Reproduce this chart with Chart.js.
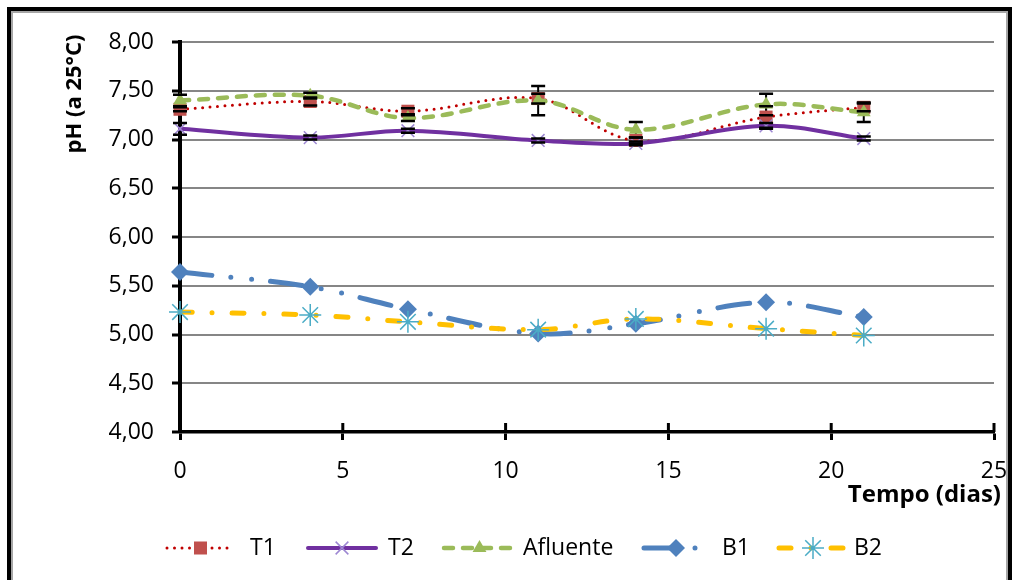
<!DOCTYPE html>
<html>
<head>
<meta charset="utf-8">
<title>pH (a 25°C) x Tempo (dias)</title>
<script src="https://cdn.jsdelivr.net/npm/chart.js@4.4.1/dist/chart.umd.min.js"></script>
<style>
  html, body { margin: 0; padding: 0; background: #fff; }
  #wrap { position: relative; width: 1019px; height: 580px; overflow: hidden; background: #fff; }
  #c { position: absolute; left: 0; top: 0; }
  #frame {
    position: absolute; left: 7px; top: 7px; width: 1005px; height: 600px;
    box-sizing: border-box; border: 4px solid #000;
    box-shadow: inset 0 0 0 2px #a6a6a6; pointer-events: none;
  }
</style>
</head>
<body>
<div id="wrap">
  <canvas id="c" width="1019" height="580"></canvas>
  <div id="frame"></div>
</div>
<script>
// Sampling days
const days = [0, 4, 7, 11, 14, 18, 21];

// pH readings per treatment
const t1       = [7.31, 7.39, 7.29, 7.42, 6.99, 7.23, 7.33];
const t2       = [7.11, 7.02, 7.09, 6.99, 6.96, 7.14, 7.01];
const afluente = [7.40, 7.45, 7.22, 7.40, 7.10, 7.36, 7.28];
const b1       = [5.64, 5.49, 5.26, 5.01, 5.11, 5.33, 5.18];
const b2       = [5.23, 5.20, 5.13, 5.05, 5.16, 5.06, 4.99];

// Standard deviations (error bars)
const t1Err       = [0.02, 0.04, 0.03, 0.05, 0.03, 0.11, 0.04];
const t2Err       = [0.06, 0.02, 0.02, 0.02, 0.02, 0.03, 0.02];
const afluenteErr = [0.06, 0.03, 0.03, 0.15, 0.08, 0.11, 0.10];

// Axis ticks
const xTicks = [0, 5, 10, 15, 20, 25];
const yTicks = [4.0, 4.5, 5.0, 5.5, 6.0, 6.5, 7.0, 7.5, 8.0];

const seriesLabels = ['T1', 'T2', 'Afluente', 'B1', 'B2'];

const FONT = '"Open Sans", "Liberation Sans", sans-serif';

const pts = arr => days.map((d, i) => ({ x: d, y: arr[i] }));

// Marker drawing used for the legend keys
function drawMarker(ctx, style, r, x, y, fill, stroke, bw) {
  ctx.save();
  ctx.fillStyle = fill; ctx.strokeStyle = stroke; ctx.lineWidth = bw;
  ctx.setLineDash([]);
  ctx.beginPath();
  if (style === 'rect') {
    const s = Math.SQRT1_2 * r;
    ctx.rect(x - s, y - s, 2 * s, 2 * s); ctx.fill();
  } else if (style === 'triangle') {
    ctx.moveTo(x, y - r);
    ctx.lineTo(x + r * 0.866, y + r * 0.5);
    ctx.lineTo(x - r * 0.866, y + r * 0.5);
    ctx.closePath(); ctx.fill();
  } else if (style === 'rectRot') {
    ctx.moveTo(x, y - r); ctx.lineTo(x + r, y); ctx.lineTo(x, y + r); ctx.lineTo(x - r, y);
    ctx.closePath(); ctx.fill();
  } else if (style === 'crossRot' || style === 'star') {
    const d = Math.SQRT1_2 * r;
    ctx.moveTo(x - d, y - d); ctx.lineTo(x + d, y + d);
    ctx.moveTo(x - d, y + d); ctx.lineTo(x + d, y - d);
    if (style === 'star') {
      ctx.moveTo(x, y - r); ctx.lineTo(x, y + r);
      ctx.moveTo(x - r, y); ctx.lineTo(x + r, y);
    }
    ctx.stroke();
  }
  ctx.restore();
}

// Vertical error bars: stems under the markers, caps on top
const errorSets = [
  { vals: t1, err: t1Err },
  { vals: t2, err: t2Err },
  { vals: afluente, err: afluenteErr }
];
function drawErrors(chart, part) {
  const ctx = chart.ctx, xs = chart.scales.x, ys = chart.scales.y;
  ctx.save();
  ctx.strokeStyle = '#000';
  ctx.setLineDash([]);
  errorSets.forEach(s => {
    days.forEach((d, i) => {
      const px = xs.getPixelForValue(d);
      const hi = ys.getPixelForValue(s.vals[i] + s.err[i]);
      const lo = ys.getPixelForValue(s.vals[i] - s.err[i]);
      ctx.beginPath();
      if (part === 'stem') {
        ctx.lineWidth = 2;
        ctx.moveTo(px, hi); ctx.lineTo(px, lo);
      } else {
        ctx.lineWidth = 2.5;
        ctx.moveTo(px - 7, hi); ctx.lineTo(px + 7, hi);
        ctx.moveTo(px - 7, lo); ctx.lineTo(px + 7, lo);
      }
      ctx.stroke();
    });
  });
  ctx.restore();
}
const errorBarsPlugin = {
  id: 'errorBars',
  beforeDatasetsDraw(chart) { drawErrors(chart, 'stem'); },
  afterDatasetsDraw(chart) { drawErrors(chart, 'cap'); }
};

// X tick marks cross the axis line: add the inner half
const crossTicksPlugin = {
  id: 'crossTicks',
  afterDraw(chart) {
    const ctx = chart.ctx, xs = chart.scales.x, bottom = chart.chartArea.bottom;
    ctx.save();
    ctx.strokeStyle = '#000'; ctx.lineWidth = 3; ctx.setLineDash([]);
    xTicks.forEach(v => {
      const px = xs.getPixelForValue(v);
      ctx.beginPath(); ctx.moveTo(px, bottom); ctx.lineTo(px, bottom - 9); ctx.stroke();
    });
    ctx.restore();
  }
};

// Axis titles
const axisTitlesPlugin = {
  id: 'axisTitles',
  afterDraw(chart) {
    const ctx = chart.ctx;
    ctx.save();
    ctx.fillStyle = '#000';
    ctx.font = 'bold 22px ' + FONT;
    ctx.textAlign = 'center'; ctx.textBaseline = 'middle';
    ctx.translate(75, 94); ctx.rotate(-Math.PI / 2);
    ctx.fillText('pH (a 25°C)', 0, 0);
    ctx.restore();
    ctx.save();
    ctx.fillStyle = '#000';
    ctx.font = 'bold 24px ' + FONT;
    ctx.textAlign = 'right'; ctx.textBaseline = 'middle';
    ctx.fillText('Tempo (dias)', 1001, 495);
    ctx.restore();
  }
};

// Legend row: dashed key line with the marker centred on it, then the label
const legendLayout = {
  y: 548,
  keyStart: [167, 308, 444, 644, 779],
  keyEnd:   [234, 376, 515, 708, 847],
  textX:    [250, 388, 523, 722, 854]
};
const lineLegendPlugin = {
  id: 'lineLegend',
  afterDraw(chart) {
    const ctx = chart.ctx, L = legendLayout, y = L.y;
    ctx.save();
    ctx.font = '23px ' + FONT;
    chart.data.datasets.forEach((ds, i) => {
      const x0 = L.keyStart[i], x1 = L.keyEnd[i];
      ctx.save();
      ctx.strokeStyle = ds.borderColor;
      ctx.lineWidth = ds.borderWidth;
      ctx.lineCap = ds.borderCapStyle || 'butt';
      ctx.setLineDash(ds.borderDash || []);
      ctx.beginPath(); ctx.moveTo(x0, y); ctx.lineTo(x1, y); ctx.stroke();
      ctx.restore();
      drawMarker(ctx, ds.pointStyle, ds.pointRadius, (x0 + x1) / 2, y,
                 ds.pointBackgroundColor, ds.pointBorderColor, ds.pointBorderWidth);
      ctx.fillStyle = '#000'; ctx.textAlign = 'left'; ctx.textBaseline = 'middle';
      ctx.fillText(ds.label, L.textX[i], y);
    });
    ctx.restore();
  }
};

const common = { tension: 0.35, fill: false, clip: false, borderCapStyle: 'round', borderJoinStyle: 'round' };

new Chart(document.getElementById('c'), {
  type: 'line',
  data: {
    datasets: [
      Object.assign({}, common, {
        label: seriesLabels[0], data: pts(t1), order: 5,
        borderColor: '#C00000', borderWidth: 3, borderDash: [0, 7.5],
        pointStyle: 'rect', pointRadius: 9.2,
        pointBackgroundColor: '#C0504D', pointBorderColor: '#C0504D', pointBorderWidth: 0
      }),
      Object.assign({}, common, {
        label: seriesLabels[1], data: pts(t2), order: 4,
        borderColor: '#7030A0', borderWidth: 4, borderDash: [],
        pointStyle: 'crossRot', pointRadius: 9,
        pointBackgroundColor: '#9D87D2', pointBorderColor: '#9D87D2', pointBorderWidth: 1.5
      }),
      Object.assign({}, common, {
        label: seriesLabels[2], data: pts(afluente), order: 3,
        borderColor: '#9BBB59', borderWidth: 4.5, borderDash: [9, 10],
        pointStyle: 'triangle', pointRadius: 8,
        pointBackgroundColor: '#9BBB59', pointBorderColor: '#9BBB59', pointBorderWidth: 0
      }),
      Object.assign({}, common, {
        label: seriesLabels[3], data: pts(b1), order: 2,
        borderColor: '#4F81BD', borderWidth: 5, borderDash: [32, 19, 0, 21, 0, 19],
        pointStyle: 'rectRot', pointRadius: 9,
        pointBackgroundColor: '#4F81BD', pointBorderColor: '#4F81BD', pointBorderWidth: 0
      }),
      Object.assign({}, common, {
        label: seriesLabels[4], data: pts(b2), order: 1,
        borderColor: '#FFC000', borderWidth: 5, borderDash: [12, 20, 0, 20],
        pointStyle: 'star', pointRadius: 11,
        pointBackgroundColor: '#4BACC6', pointBorderColor: '#4BACC6', pointBorderWidth: 1.5
      })
    ]
  },
  options: {
    responsive: false,
    animation: false,
    devicePixelRatio: 1,
    layout: { padding: { left: 0, right: 25, top: 42, bottom: 0 } },
    plugins: { legend: { display: false }, tooltip: { enabled: false } },
    scales: {
      x: {
        type: 'linear', min: 0, max: 25,
        afterBuildTicks: s => { s.ticks = xTicks.map(v => ({ value: v })); },
        afterFit: s => { s.height = 148; s.paddingLeft = 0; s.paddingRight = 0; },
        ticks: { color: '#000', font: { family: FONT, size: 23 }, padding: 18, maxRotation: 0 },
        grid: { display: true, drawOnChartArea: false, drawTicks: true, tickLength: 8, tickColor: '#000', tickWidth: 3 },
        border: { display: true, color: '#000', width: 3.5 }
      },
      y: {
        type: 'linear', min: 4, max: 8,
        afterBuildTicks: s => { s.ticks = yTicks.map(v => ({ value: v })); },
        afterFit: s => { s.width = 180; s.paddingTop = 0; s.paddingBottom = 0; },
        ticks: {
          color: '#000', font: { family: FONT, size: 23 }, padding: 18,
          callback: v => v.toFixed(2).replace('.', ',')
        },
        grid: { color: '#868686', lineWidth: 2, drawTicks: true, tickLength: 8, tickColor: '#000', tickWidth: 3 },
        border: { display: true, color: '#000', width: 4 }
      }
    }
  },
  plugins: [errorBarsPlugin, crossTicksPlugin, axisTitlesPlugin, lineLegendPlugin]
});
</script>
</body>
</html>
